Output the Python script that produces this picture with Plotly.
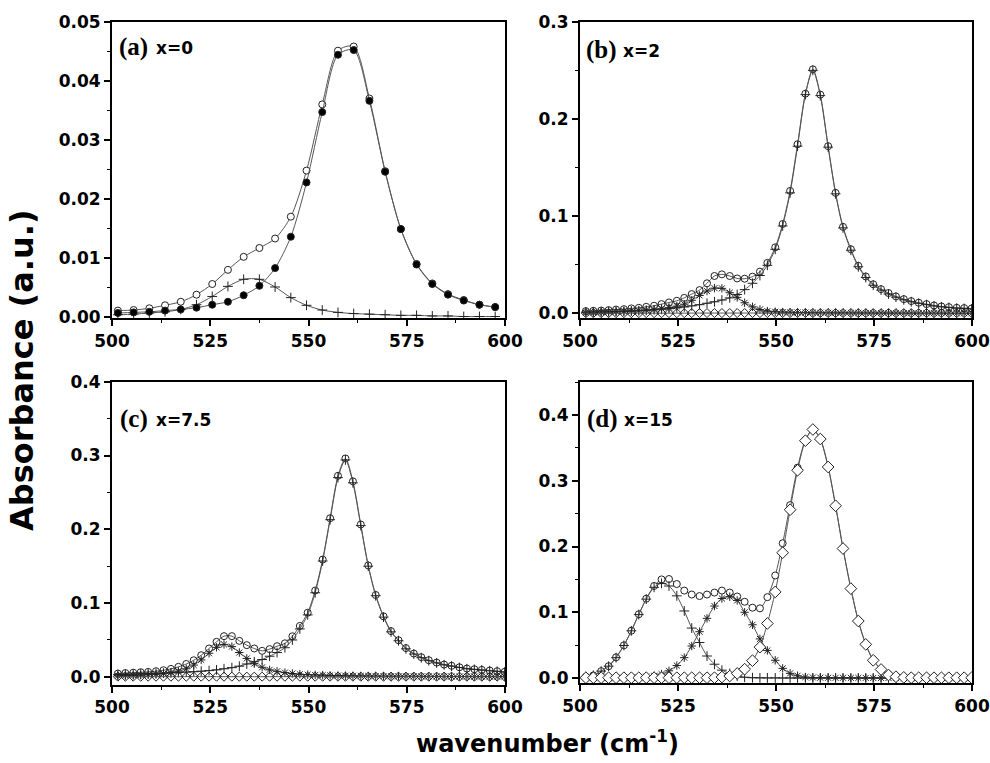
import plotly.graph_objects as go

# ---------------- data ----------------
x_a = [501.5, 505.5, 509.5, 513.5, 517.5, 521.5, 525.5, 529.5, 533.5, 537.5, 541.5, 545.5, 549.5,
       553.5, 557.5, 561.5, 565.5, 569.5, 573.5, 577.5, 581.5, 585.5, 589.5, 593.5, 597.5]
a_open = [0.0011, 0.0012, 0.0015, 0.0020, 0.0026, 0.0038, 0.0056, 0.0080, 0.0102, 0.0117, 0.0133, 0.0170, 0.0248,
          0.0360, 0.0451, 0.0458, 0.0370, 0.0247, 0.0149, 0.0090, 0.0057, 0.0039, 0.0029, 0.0021, 0.0017]
a_filled = [0.0007, 0.0008, 0.0009, 0.0011, 0.0013, 0.0016, 0.0021, 0.0026, 0.0037, 0.0053, 0.0083, 0.0136, 0.0228,
            0.0347, 0.0444, 0.0452, 0.0366, 0.0246, 0.0149, 0.0089, 0.0056, 0.0038, 0.0028, 0.0021, 0.0017]
a_plus = [0.0004, 0.0005, 0.0007, 0.0009, 0.0013, 0.0021, 0.0035, 0.0052, 0.0064, 0.0064, 0.0051, 0.0033, 0.0020,
          0.0012, 0.0008, 0.0006, 0.0005, 0.0004, 0.0003, 0.0003, 0.0002, 0.0002, 0.0001, 0.0001, 0.0001]

x_k = [501.5, 503.4, 505.4, 507.3, 509.2, 511.2, 513.1, 515.0, 516.9, 518.9,
       520.8, 522.7, 524.7, 526.6, 528.5, 530.5, 532.4, 534.3, 536.2, 538.2,
       540.1, 542.0, 544.0, 545.9, 547.8, 549.8, 551.7, 553.6, 555.5, 557.5,
       559.4, 561.3, 563.3, 565.2, 567.1, 569.1, 571.0, 572.9, 574.8, 576.8,
       578.7, 580.6, 582.6, 584.5, 586.4, 588.4, 590.3, 592.2, 594.1, 596.1,
       598.0, 599.9]

b_circ = [0.0024, 0.0027, 0.0030, 0.0034, 0.0040, 0.0044, 0.0052, 0.0058, 0.0068, 0.0079,
          0.0096, 0.0113, 0.0130, 0.0160, 0.0199, 0.0240, 0.0310, 0.0385, 0.0402, 0.0385,
          0.0360, 0.0357, 0.0378, 0.0430, 0.0520, 0.0680, 0.0920, 0.1260, 0.1740, 0.2260,
          0.2510, 0.2250, 0.1720, 0.1240, 0.0890, 0.0660, 0.0490, 0.0380, 0.0300, 0.0250,
          0.0210, 0.0175, 0.0147, 0.0127, 0.0110, 0.0096, 0.0082, 0.0072, 0.0065, 0.0058,
          0.0055, 0.0051]
b_plus = [0.0014, 0.0015, 0.0016, 0.0018, 0.0020, 0.0022, 0.0025, 0.0028, 0.0032, 0.0037,
          0.0043, 0.0050, 0.0058, 0.0067, 0.0078, 0.0090, 0.0105, 0.0120, 0.0138, 0.0160,
          0.0195, 0.0245, 0.0310, 0.0390, 0.0495, 0.0660, 0.0900, 0.1240, 0.1720, 0.2250,
          0.2500, 0.2240, 0.1710, 0.1230, 0.0880, 0.0650, 0.0480, 0.0370, 0.0290, 0.0240,
          0.0200, 0.0167, 0.0140, 0.0120, 0.0104, 0.0090, 0.0077, 0.0068, 0.0061, 0.0054,
          0.0051, 0.0047]
b_star = [0.0008, 0.0010, 0.0013, 0.0016, 0.0019, 0.0022, 0.0026, 0.0030, 0.0034, 0.0040,
          0.0048, 0.0060, 0.0075, 0.0095, 0.0135, 0.0185, 0.0230, 0.0260, 0.0258, 0.0213,
          0.0165, 0.0110, 0.0068, 0.0040, 0.0024, 0.0017, 0.0014, 0.0012, 0.0010, 0.0009,
          0.0008, 0.0007, 0.0007, 0.0006, 0.0006, 0.0005, 0.0005, 0.0005, 0.0004, 0.0004,
          0.0004, 0.0004, 0.0003, 0.0003, 0.0003, 0.0003, 0.0003, 0.0003, 0.0002, 0.0002,
          0.0002, 0.0002]
b_dia = [0.0003, 0.0003, 0.0003, 0.0003, 0.0003, 0.0003, 0.0003, 0.0003, 0.0003, 0.0003,
         0.0003, 0.0003, 0.0003, 0.0003, 0.0004, 0.0004, 0.0004, 0.0004, 0.0004, 0.0004,
         0.0004, 0.0004, 0.0004, 0.0004, 0.0004, 0.0004, 0.0004, 0.0004, 0.0004, 0.0004,
         0.0004, 0.0004, 0.0004, 0.0004, 0.0004, 0.0004, 0.0003, 0.0003, 0.0003, 0.0003,
         0.0003, 0.0003, 0.0003, 0.0003, 0.0003, 0.0003, 0.0003, 0.0003, 0.0003, 0.0003,
         0.0003, 0.0003]

c_circ = [0.0045, 0.0052, 0.0057, 0.0063, 0.0068, 0.0077, 0.0090, 0.0108, 0.0136, 0.0175,
          0.0225, 0.0294, 0.0385, 0.0475, 0.0552, 0.0552, 0.0488, 0.0430, 0.0385, 0.0353,
          0.0376, 0.0416, 0.0455, 0.0550, 0.0690, 0.0870, 0.1170, 0.1590, 0.2150, 0.2725,
          0.2960, 0.2650, 0.2065, 0.1510, 0.1110, 0.0820, 0.0620, 0.0497, 0.0390, 0.0316,
          0.0267, 0.0226, 0.0194, 0.0167, 0.0150, 0.0130, 0.0113, 0.0104, 0.0095, 0.0086,
          0.0077, 0.0068]
c_plus = [0.0030, 0.0033, 0.0036, 0.0040, 0.0043, 0.0047, 0.0051, 0.0055, 0.0060, 0.0065,
          0.0070, 0.0077, 0.0085, 0.0095, 0.0110, 0.0125, 0.0145, 0.0175, 0.0205, 0.0235,
          0.0280, 0.0330, 0.0395, 0.0500, 0.0650, 0.0840, 0.1140, 0.1570, 0.2130, 0.2700,
          0.2940, 0.2630, 0.2050, 0.1500, 0.1100, 0.0810, 0.0610, 0.0490, 0.0380, 0.0310,
          0.0260, 0.0220, 0.0189, 0.0163, 0.0146, 0.0127, 0.0110, 0.0101, 0.0092, 0.0083,
          0.0075, 0.0066]
c_star = [0.0015, 0.0018, 0.0021, 0.0025, 0.0030, 0.0036, 0.0045, 0.0058, 0.0078, 0.0110,
          0.0160, 0.0230, 0.0320, 0.0400, 0.0440, 0.0410, 0.0330, 0.0250, 0.0180, 0.0130,
          0.0095, 0.0075, 0.0058, 0.0046, 0.0036, 0.0030, 0.0026, 0.0023, 0.0020, 0.0018,
          0.0016, 0.0015, 0.0013, 0.0012, 0.0011, 0.0010, 0.0009, 0.0009, 0.0008, 0.0008,
          0.0007, 0.0007, 0.0006, 0.0006, 0.0005, 0.0005, 0.0005, 0.0004, 0.0004, 0.0004,
          0.0003, 0.0003]
c_dia = [0.0003, 0.0003, 0.0003, 0.0003, 0.0003, 0.0003, 0.0003, 0.0003, 0.0003, 0.0003,
         0.0003, 0.0003, 0.0003, 0.0003, 0.0003, 0.0003, 0.0003, 0.0003, 0.0003, 0.0003,
         0.0003, 0.0003, 0.0003, 0.0003, 0.0003, 0.0003, 0.0003, 0.0003, 0.0003, 0.0003,
         0.0003, 0.0003, 0.0003, 0.0003, 0.0003, 0.0003, 0.0003, 0.0003, 0.0003, 0.0003,
         0.0003, 0.0003, 0.0003, 0.0003, 0.0003, 0.0003, 0.0003, 0.0003, 0.0003, 0.0003,
         0.0003, 0.0003]

d_circ = [0.0020, 0.0040, 0.0105, 0.0180, 0.0315, 0.0497, 0.0720, 0.0970, 0.1207, 0.1400,
          0.1500, 0.1506, 0.1430, 0.1330, 0.1270, 0.1247, 0.1270, 0.1300, 0.1330, 0.1300,
          0.1240, 0.1160, 0.1070, 0.1060, 0.1230, 0.1560, 0.2050, 0.2630, 0.3200, 0.3620,
          0.3780, 0.3635, 0.3210, 0.2620, 0.1970, 0.1360, 0.0870, 0.0515, 0.0275, 0.0135,
          0.0055, 0.0025, 0.0012, 0.0008, 0.0006, 0.0005, 0.0004, 0.0004, 0.0003, 0.0003,
          0.0003, 0.0002]
d_plus = [0.0020, 0.0040, 0.0105, 0.0180, 0.0310, 0.0495, 0.0718, 0.0965, 0.1200, 0.1380,
          0.1440, 0.1400, 0.1250, 0.1020, 0.0760, 0.0540, 0.0335, 0.0210, 0.0120, 0.0070,
          0.0030, 0.0012, 0.0005, 0.0003, 0.0002, 0.0002, 0.0001, 0.0001, 0.0001, 0.0001,
          0.0001, 0.0001, 0.0001, 0.0001, 0.0001, 0.0001, 0.0001, 0.0001, 0.0001, 0.0001,
          0.0001, 0.0001, 0.0001, 0.0001, 0.0001, 0.0001, 0.0001, 0.0001, 0.0001, 0.0001,
          0.0001, 0.0001]
d_star = [0.0001, 0.0001, 0.0002, 0.0002, 0.0003, 0.0004, 0.0006, 0.0010, 0.0020, 0.0035,
          0.0060, 0.0110, 0.0190, 0.0310, 0.0487, 0.0705, 0.0908, 0.1095, 0.1210, 0.1237,
          0.1180, 0.1000, 0.0810, 0.0595, 0.0420, 0.0270, 0.0147, 0.0071, 0.0035, 0.0015,
          0.0008, 0.0005, 0.0004, 0.0003, 0.0003, 0.0002, 0.0002, 0.0002, 0.0001, 0.0001,
          0.0001, 0.0001, 0.0001, 0.0001, 0.0001, 0.0001, 0.0001, 0.0001, 0.0001, 0.0001,
          0.0001, 0.0001]
d_dia = [0.0005, 0.0005, 0.0005, 0.0005, 0.0005, 0.0005, 0.0005, 0.0005, 0.0005, 0.0005,
         0.0005, 0.0005, 0.0005, 0.0005, 0.0005, 0.0005, 0.0005, 0.0006, 0.0015, 0.0030,
         0.0070, 0.0135, 0.0264, 0.0470, 0.0830, 0.1310, 0.1906, 0.2560, 0.3160, 0.3610,
         0.3780, 0.3635, 0.3210, 0.2620, 0.1970, 0.1360, 0.0867, 0.0512, 0.0270, 0.0130,
         0.0046, 0.0020, 0.0010, 0.0005, 0.0005, 0.0005, 0.0005, 0.0005, 0.0005, 0.0005,
         0.0005, 0.0005]

x_ticks = [500, 525, 550, 575, 600]
panel_labels = ["(a)", "(b)", "(c)", "(d)"]
panel_x = ["x=0", "x=2", "x=7.5", "x=15"]

# ---------------- styling ----------------
W, H = 990, 763
LINE = "#555555"
MK = "#222222"
TICKFONT = dict(family="DejaVu Sans", size=17, color="black", weight="bold")

fig = go.Figure()


def add(x, y, ax, symbol, size, fill=None, lw=1.0):
    if fill is None:      # open symbol: stroke colour comes from marker.color
        marker = dict(symbol=symbol, size=size, color=MK, line=dict(width=lw))
    else:
        marker = dict(symbol=symbol, size=size, color=fill, line=dict(color=MK, width=lw))
    fig.add_trace(go.Scatter(
        x=x, y=y, xaxis="x" + ax, yaxis="y" + ax, mode="lines+markers",
        line=dict(color=LINE, width=1, shape="spline", smoothing=0.8),
        marker=marker, showlegend=False, hoverinfo="skip"))


# (a)
add(x_a, a_plus, "", "cross-thin-open", 7)
add(x_a, a_open, "", "circle", 7, fill="white")
add(x_a, a_filled, "", "circle", 7, fill="black")
# (b)
add(x_k, b_circ, "2", "circle-open", 7)
add(x_k, b_plus, "2", "cross-thin-open", 7)
add(x_k, b_star, "2", "asterisk-open", 7)
add(x_k, b_dia, "2", "diamond-open", 7)
# (c)
add(x_k, c_circ, "3", "circle-open", 7)
add(x_k, c_plus, "3", "cross-thin-open", 7)
add(x_k, c_star, "3", "asterisk-open", 7)
add(x_k, c_dia, "3", "diamond-open", 7)
# (d)
add(x_k, d_circ, "4", "circle", 7, fill="white")
add(x_k, d_plus, "4", "cross-thin-open", 7)
add(x_k, d_star, "4", "asterisk-open", 7)
add(x_k, d_dia, "4", "diamond", 9, fill="white")


def px_x(a, b):
    return [a / W, b / W]


def px_y(top, bottom):
    return [1 - bottom / H, 1 - top / H]


def xax(dom, anchor):
    return dict(domain=dom, anchor=anchor, range=[500, 600], tickvals=x_ticks, automargin=False,
                ticks="outside", ticklen=6, tickwidth=1.5, tickcolor="black",
                minor=dict(dtick=12.5, tick0=500, ticks="outside", ticklen=3, tickwidth=1.2, tickcolor="black"),
                showline=True, linewidth=2, linecolor="black", mirror=True,
                showgrid=False, zeroline=False, tickfont=TICKFONT)


def yax(dom, anchor, rng, dtick, fmt):
    return dict(domain=dom, anchor=anchor, range=rng, tick0=0, dtick=dtick, tickformat=fmt, automargin=False,
                ticks="outside", ticklen=6, tickwidth=1.5, tickcolor="black",
                minor=dict(dtick=dtick / 2, tick0=0, ticks="outside", ticklen=3, tickwidth=1.2, tickcolor="black"),
                showline=True, linewidth=2, linecolor="black", mirror=True,
                showgrid=False, zeroline=False, tickfont=TICKFONT)


top_dom = px_y(21.7, 318.3)
fig.update_layout(
    template="none",
    width=W, height=H, margin=dict(l=0, r=0, t=0, b=0, autoexpand=False),
    paper_bgcolor="white", plot_bgcolor="white",
    xaxis=xax(px_x(112, 505), "y"),
    yaxis=yax(top_dom, "x", [-0.0002, 0.05], 0.01, ".2f"),
    xaxis2=xax(px_x(580, 972), "y2"),
    yaxis2=yax(top_dom, "x2", [-0.005, 0.3], 0.1, ".1f"),
    xaxis3=xax(px_x(112, 505), "y3"),
    yaxis3=yax(px_y(381.7, 685), "x3", [-0.011, 0.4], 0.1, ".1f"),
    xaxis4=xax(px_x(580, 972), "y4"),
    yaxis4=yax(px_y(381.7, 683.3), "x4", [-0.008, 0.4507], 0.1, ".1f"),
)

label_pos = [(118, 47), (585, 50), (119, 419), (586, 419)]
xlab_off = [37, 37, 36, 37]
anns = []
for (lx, ly), pl, tx, off in zip(label_pos, panel_labels, panel_x, xlab_off):
    anns.append(dict(x=lx / W, y=1 - ly / H, xref="paper", yref="paper", xanchor="left", yanchor="middle",
                     text=pl, showarrow=False, borderpad=0,
                     font=dict(family="Liberation Serif", size=25, color="black", weight="bold")))
    anns.append(dict(x=(lx + off) / W, y=1 - (ly + 1) / H, xref="paper", yref="paper", xanchor="left",
                     yanchor="middle", text=tx, showarrow=False, borderpad=0,
                     font=dict(family="DejaVu Sans", size=17, color="black", weight="bold")))

anns.append(dict(x=22 / W, y=1 - 370 / H, xref="paper", yref="paper", xanchor="center", yanchor="middle",
                 text="Absorbance (a.u.)", textangle=-90, showarrow=False,
                 font=dict(family="DejaVu Sans", size=32, color="black", weight="bold")))
anns.append(dict(x=547 / W, y=1 - 742 / H, xref="paper", yref="paper", xanchor="center", yanchor="middle",
                 text="wavenumber (cm<sup>-1</sup>)", showarrow=False,
                 font=dict(family="DejaVu Sans", size=24, color="black", weight="bold")))
fig.update_layout(annotations=anns)

fig.write_html("out.html", config={"displayModeBar": False},
               post_script="document.body.style.margin='0';document.body.style.padding='0';")
